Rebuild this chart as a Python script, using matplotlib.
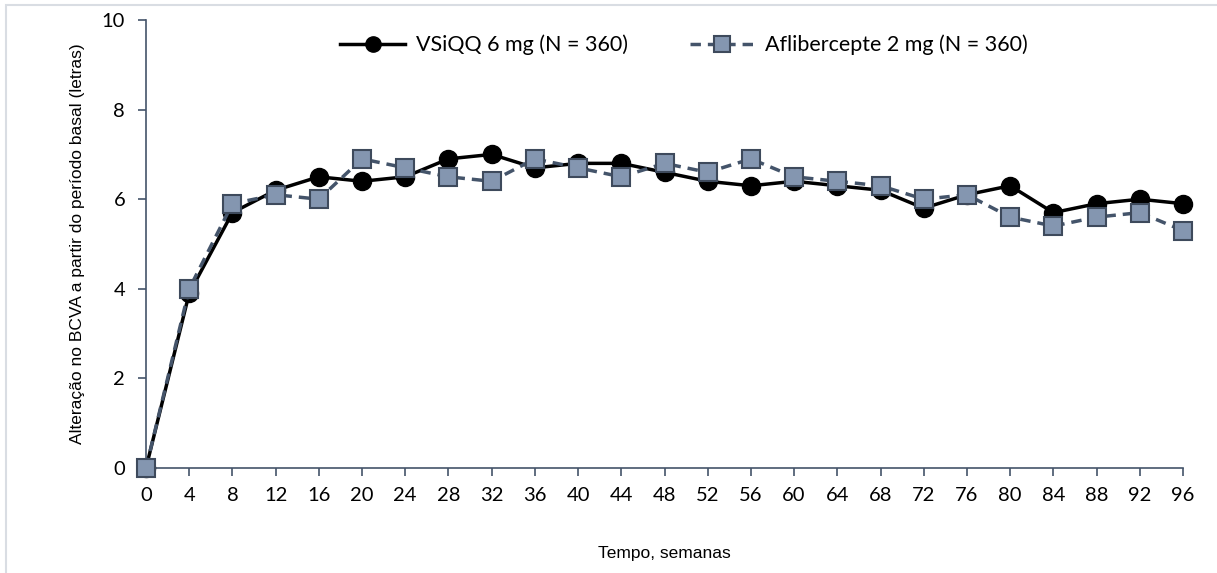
import matplotlib.pyplot as plt
from matplotlib.patches import Rectangle

weeks = [0, 4, 8, 12, 16, 20, 24, 28, 32, 36, 40, 44, 48, 52, 56, 60, 64, 68, 72, 76, 80, 84, 88, 92, 96]
vsiqq = [0, 3.9, 5.7, 6.2, 6.5, 6.4, 6.5, 6.9, 7.0, 6.7, 6.8, 6.8, 6.6, 6.4, 6.3, 6.4, 6.3, 6.2, 5.8, 6.1, 6.3, 5.7, 5.9, 6.0, 5.9]
aflib = [0, 4.0, 5.9, 6.1, 6.0, 6.9, 6.7, 6.5, 6.4, 6.9, 6.7, 6.5, 6.8, 6.6, 6.9, 6.5, 6.4, 6.3, 6.0, 6.1, 5.6, 5.4, 5.6, 5.7, 5.3]

label_vsiqq = "VSiQQ 6 mg (N = 360)"
label_aflib = "Aflibercepte 2 mg (N = 360)"

spine_col = "#44546a"

fig = plt.figure(figsize=(12.17, 5.73), dpi=100)
ax = fig.add_axes([146 / 1217, 1 - 468 / 573, (1183 - 146) / 1217, (468 - 20) / 573])

# light frame around the chart area
fig.patches.append(Rectangle((6 / 1217, -0.1), 1.2, 1.1 - 5 / 573, transform=fig.transFigure,
                             fill=False, edgecolor="#d9dde3", linewidth=1.5))

ax.plot(weeks, vsiqq, color="black", linewidth=2.5, marker="o", markersize=13,
        markerfacecolor="black", markeredgecolor="black", label=label_vsiqq, zorder=3)
ax.plot(weeks, aflib, color=spine_col, linewidth=2.5, linestyle=(0, (3, 2)), marker="s",
        markersize=13, markerfacecolor="#8496b0", markeredgecolor="#3e4a5c",
        markeredgewidth=1.5, label=label_aflib, zorder=4)

ax.set_xlim(0, 96)
ax.set_ylim(0, 10)
ax.set_xticks(weeks)
ax.set_yticks([0, 2, 4, 6, 8, 10])
for s in ["top", "right"]:
    ax.spines[s].set_visible(False)
for s in ["left", "bottom"]:
    ax.spines[s].set_color(spine_col)
    ax.spines[s].set_linewidth(1.2)
ax.tick_params(axis="both", colors=spine_col, length=6, width=1.2, labelcolor="black",
               labelsize=14.5)
ax.tick_params(axis="x", pad=8)
ax.tick_params(axis="y", pad=9)
for lab in ax.get_xticklabels() + ax.get_yticklabels():
    lab.set_family(["Lato", "DejaVu Sans"])

ax.set_ylabel("Alteração no BCVA a partir do período basal (letras)", fontsize=12.5,
              family="Liberation Sans", labelpad=12)
ax.set_xlabel("Tempo, semanas", fontsize=12.5, family="Liberation Sans", labelpad=30)

leg = ax.legend(loc="upper center", bbox_to_anchor=(0.519, 1.01), ncol=2, frameon=False,
                handlelength=3.0, columnspacing=2.9, handletextpad=0.5,
                prop={"family": ["Lato", "DejaVu Sans"], "size": 15.5})
for h in leg.legend_handles:
    h.set_markersize(11)
for l in ax.lines:
    l.set_clip_on(False)

fig.savefig("out.png", dpi=100)
